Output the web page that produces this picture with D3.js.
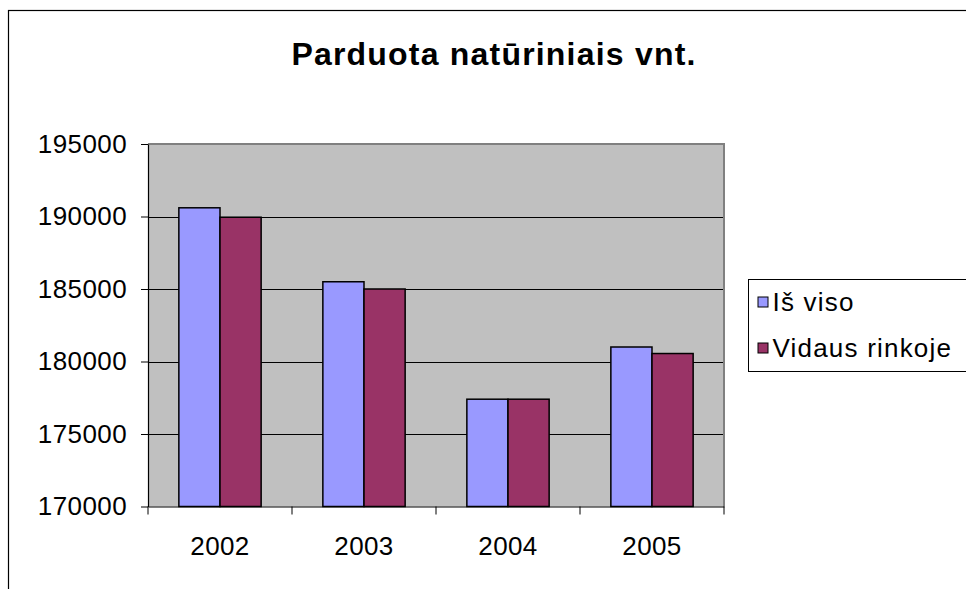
<!DOCTYPE html>
<html>
<head>
<meta charset="utf-8">
<script src="https://cdn.jsdelivr.net/npm/d3@7"></script>
<style>
  html, body { margin: 0; padding: 0; background: #fff; }
  svg { display: block; font-family: Arial, "Liberation Sans", sans-serif; }
</style>
</head>
<body>
<div id="chart"></div>
<script>
var years = ["2002", "2003", "2004", "2005"];
var seriesNames = ["Iš viso", "Vidaus rinkoje"];
var isViso = [190600, 185500, 177400, 181000];
var vidausRinkoje = [189950, 185000, 177400, 180550];
var yTicks = [170000, 175000, 180000, 185000, 190000, 195000];
var seriesColors = ["#9999ff", "#993366"];

var width = 966,
    height = 589;
var plot = { left: 148, top: 144, right: 724, bottom: 506.5 };

var entries = years.map(function(year, i) {
  return { year: year, values: [isViso[i], vidausRinkoje[i]] };
});

var svg = d3.select("#chart")
  .append("svg")
    .attr("width", width)
    .attr("height", height);

// chart frame (runs off the right and bottom edges)
svg.append("rect")
  .attr("x", 8.5)
  .attr("y", 10.5)
  .attr("width", 1200)
  .attr("height", 800)
  .attr("fill", "#fff")
  .attr("stroke", "#000")
  .attr("stroke-width", 1.2);

svg.append("text")
  .attr("x", 494)
  .attr("y", 65)
  .attr("text-anchor", "middle")
  .attr("font-size", "32px")
  .attr("font-weight", "bold")
  .attr("letter-spacing", "1.2px")
  .text("Parduota natūriniais vnt.");

var x = d3.scaleBand()
  .domain(years)
  .range([plot.left, plot.right]);

var xInner = d3.scaleBand()
  .domain(d3.range(seriesNames.length))
  .range([0, x.bandwidth() * 2 / 3.5]);

var y = d3.scaleLinear()
  .domain([170000, 195000])
  .range([plot.bottom, plot.top]);

// plot area
svg.append("rect")
  .attr("x", plot.left)
  .attr("y", plot.top)
  .attr("width", plot.right - plot.left)
  .attr("height", plot.bottom - plot.top)
  .attr("fill", "#c0c0c0");

svg.append("g")
  .selectAll("line")
  .data(yTicks.slice(1, -1))
  .enter()
    .append("line")
    .attr("x1", plot.left)
    .attr("x2", plot.right)
    .attr("y1", function(d) { return Math.round(y(d)) + 0.5; })
    .attr("y2", function(d) { return Math.round(y(d)) + 0.5; })
    .attr("stroke", "#000")
    .attr("stroke-width", 1);

// plot border top/right
svg.append("path")
  .attr("d", "M" + plot.left + "," + (plot.top) + "H" + (plot.right) + "V" + plot.bottom)
  .attr("fill", "none")
  .attr("stroke", "#808080")
  .attr("stroke-width", 2);

var groups = svg.append("g")
  .selectAll("g")
  .data(entries)
  .enter()
    .append("g")
    .attr("transform", function(d) {
      return "translate(" + (x(d.year) + x.bandwidth() * 0.75 / 3.5) + ",0)";
    });

groups.selectAll("rect")
  .data(function(d) { return d.values; })
  .enter()
    .append("rect")
    .attr("x", function(d, i) { return xInner(i); })
    .attr("y", function(d) { return y(d); })
    .attr("width", xInner.bandwidth())
    .attr("height", function(d) { return plot.bottom - y(d); })
    .attr("fill", function(d, i) { return seriesColors[i]; })
    .attr("stroke", "#000")
    .attr("stroke-width", 1.5);

var yAxis = svg.append("g")
  .attr("transform", "translate(" + plot.left + ",0)")
  .call(d3.axisLeft(y).tickValues(yTicks).tickSize(7).tickSizeOuter(0).tickPadding(14).tickFormat(d3.format("d")));

var xAxis = svg.append("g")
  .attr("transform", "translate(0," + plot.bottom + ")")
  .call(d3.axisBottom(x).tickSize(0).tickPadding(30));

xAxis.selectAll(".tick")
  .append("line")
  .attr("x1", -x.bandwidth() / 2)
  .attr("x2", -x.bandwidth() / 2)
  .attr("y1", 0)
  .attr("y2", 8)
  .attr("stroke", "#000");

xAxis.append("line")
  .attr("x1", plot.right)
  .attr("x2", plot.right)
  .attr("y1", 0)
  .attr("y2", 8)
  .attr("stroke", "#000");

[yAxis, xAxis].forEach(function(axis) {
  axis.select(".domain").attr("stroke", "#000").attr("stroke-width", 1.2);
  axis.selectAll(".tick line").attr("stroke", "#000");
  axis.selectAll(".tick text")
    .attr("font-size", "26px")
    .attr("letter-spacing", "0.4px")
    .attr("fill", "#000")
    .attr("font-family", "Arial, 'Liberation Sans', sans-serif");
});

// legend
var legend = svg.append("g")
  .attr("transform", "translate(748.5,279.5)");

legend.append("rect")
  .attr("width", 400)
  .attr("height", 92)
  .attr("fill", "#fff")
  .attr("stroke", "#000")
  .attr("stroke-width", 1);

var legendItems = legend.selectAll("g.legend-item")
  .data(seriesNames)
  .enter()
    .append("g")
    .attr("class", "legend-item")
    .attr("transform", function(d, i) { return "translate(0," + (i * 46) + ")"; });

legendItems.append("rect")
  .attr("x", 9.5)
  .attr("y", 17.5)
  .attr("width", 10)
  .attr("height", 10)
  .attr("fill", function(d, i) { return seriesColors[i]; })
  .attr("stroke", "#000")
  .attr("stroke-width", 1);

legendItems.append("text")
  .attr("x", 24)
  .attr("y", 31)
  .attr("font-size", "26px")
  .attr("letter-spacing", "1.2px")
  .text(function(d) { return d; });
</script>
</body>
</html>
